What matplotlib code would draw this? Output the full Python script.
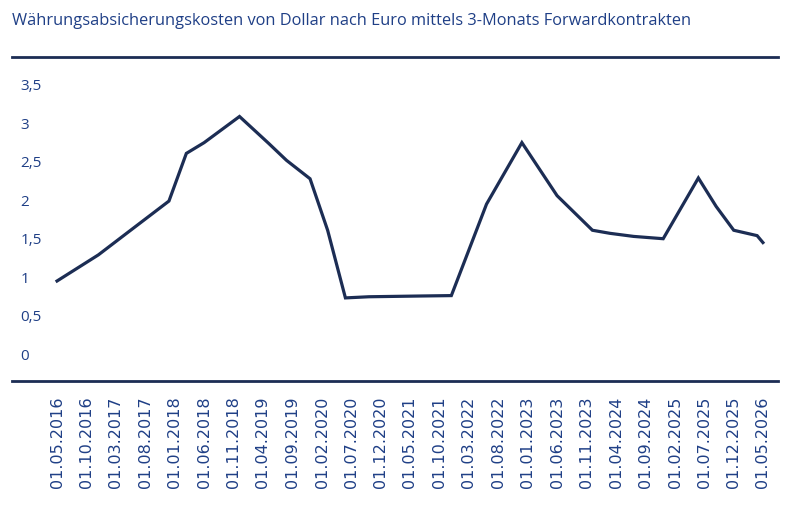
import matplotlib.pyplot as plt
import pandas as pd

# Kosten der Währungsabsicherung (Stützpunkte der Linie)
dates = ['2016-05-01', '2016-12-01', '2017-05-01', '2017-12-01', '2018-03-01',
         '2018-06-01', '2018-12-01', '2019-05-01', '2019-08-01', '2019-12-01',
         '2020-03-01', '2020-06-01', '2020-10-01', '2021-07-01', '2021-12-01',
         '2022-06-01', '2022-12-01', '2023-06-01', '2023-12-01', '2024-03-01',
         '2024-07-01', '2024-12-01', '2025-06-01', '2025-09-01', '2025-12-01',
         '2026-04-01', '2026-05-01']
values = [0.95, 1.29, 1.58, 1.99, 2.61,
          2.75, 3.09, 2.74, 2.52, 2.28,
          1.61, 0.73, 0.745, 0.755, 0.76,
          1.95, 2.75, 2.06, 1.61, 1.57,
          1.53, 1.50, 2.29, 1.92, 1.61,
          1.54, 1.45]

tick_dates = pd.date_range('2016-05-01', '2026-05-01', freq='5MS')
y_ticks = [0, 0.5, 1, 1.5, 2, 2.5, 3, 3.5]
y_labels = ['0', '0,5', '1', '1,5', '2', '2,5', '3', '3,5']

title = 'Währungsabsicherungskosten von Dollar nach Euro mittels 3-Monats Forwardkontrakten'

navy = '#1c2d54'
blue = '#1f3f86'

fig = plt.figure(figsize=(8.10, 5.07), dpi=100)
ax = fig.add_axes([12 / 810, 1 - 381 / 507, 766 / 810, 324 / 507])

ax.plot(pd.to_datetime(dates), values, color=navy, lw=2.3, solid_joinstyle='miter')

ax.set_ylim(-0.351, 3.864)
ax.set_xlim(pd.Timestamp('2016-05-01') - pd.Timedelta(days=233),
            pd.Timestamp('2026-05-01') + pd.Timedelta(days=78))

ax.set_yticks(y_ticks)
ax.set_yticklabels(y_labels, fontfamily='Open Sans', fontsize=11, color=blue, ha='left')
ax.tick_params(axis='y', length=0, pad=-6)

ax.set_xticks(tick_dates)
ax.set_xticklabels([d.strftime('%d.%m.%Y') for d in tick_dates], rotation=90,
                   fontfamily='DejaVu Sans', fontsize=11.5, color=blue)
ax.tick_params(axis='x', length=0, pad=11)

for side in ['left', 'right']:
    ax.spines[side].set_visible(False)
for side in ['top', 'bottom']:
    ax.spines[side].set_color(navy)
    ax.spines[side].set_linewidth(2)

fig.text(12 / 810, 1 - 21 / 507, title, fontfamily='Open Sans', fontsize=11.8,
         color=blue, va='center', ha='left')

fig.savefig('out.png', dpi=100)
